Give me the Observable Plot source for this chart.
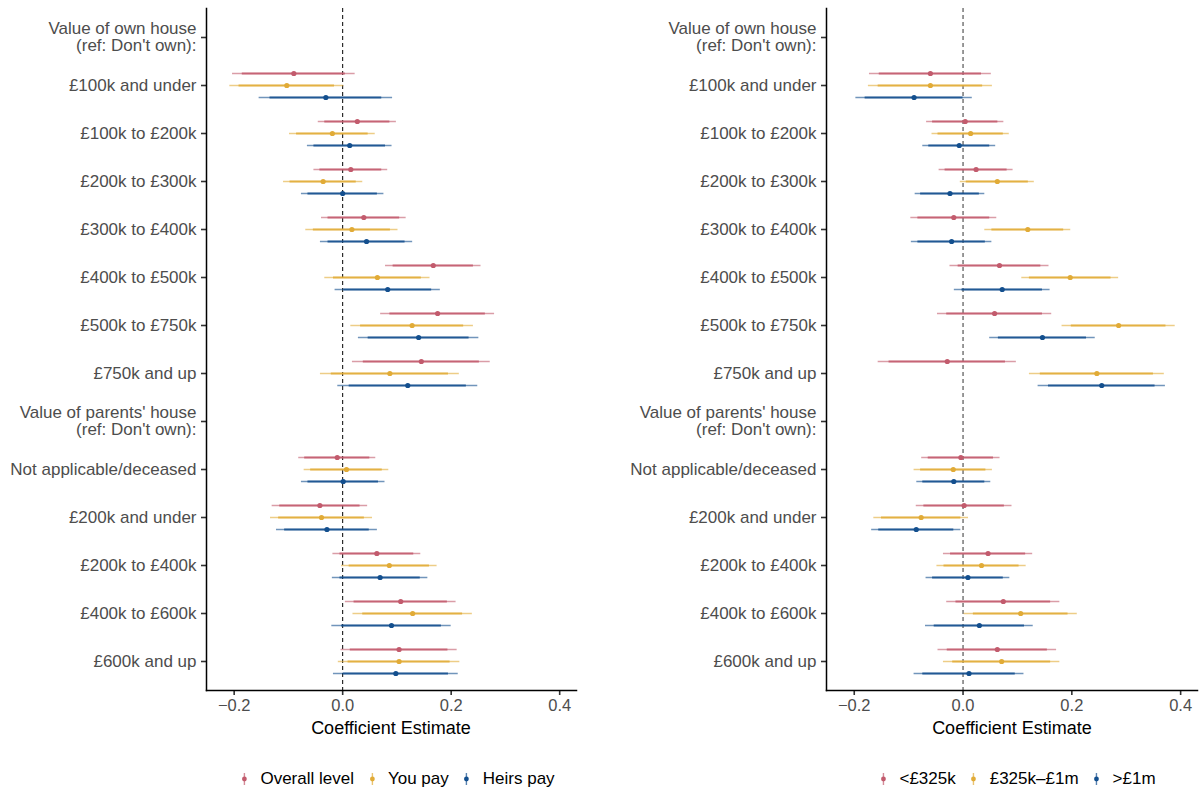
<!DOCTYPE html>
<html>
<head>
<meta charset="utf-8">
<script src="https://cdn.jsdelivr.net/npm/d3@7"></script>
<script src="https://cdn.jsdelivr.net/npm/@observablehq/plot@0.6"></script>
<style>
  body { margin: 0; background: #fff; font-family: "Liberation Sans", Arial, sans-serif; }
  #wrap { position: relative; width: 1204px; height: 793px; overflow: hidden; }
  .panel { position: absolute; top: 0; }
  .xtitle { position: absolute; top: 718px; font-size: 18px; line-height: 20px; color: #000; transform: translateX(-50%); white-space: nowrap; }
  .legend { position: absolute; top: 769px; transform: translateX(-50%); display: flex; align-items: center; font-size: 17px; line-height: 20px; color: #000; white-space: nowrap; }
  .item { display: flex; align-items: center; margin-right: 13px; }
  .item:last-child { margin-right: 0; }
  .item span { margin-left: 11px; }
</style>
</head>
<body>
<div id="wrap"></div>
<script>
// ---- Data ----
const yLabels = [
  "Value of own house\n(ref: Don't own):",
  "£100k and under", "£100k to £200k", "£200k to £300k", "£300k to £400k",
  "£400k to £500k", "£500k to £750k", "£750k and up",
  "Value of parents' house\n(ref: Don't own):",
  "Not applicable/deceased", "£200k and under", "£200k to £400k",
  "£400k to £600k", "£600k and up"
];
const rows = [
  "£100k and under", "£100k to £200k", "£200k to £300k", "£300k to £400k",
  "£400k to £500k", "£500k to £750k", "£750k and up",
  "Not applicable/deceased", "£200k and under", "£200k to £400k",
  "£400k to £600k", "£600k and up"
];
const xTicks = [-0.2, 0, 0.2, 0.4];
const xDomain = [-0.251, 0.431];
const colors = ["#c25b6d", "#e1ab37", "#134f8e"];

// Left panel
const leftSeries = ["Overall level", "You pay", "Heirs pay"];
const overallEst = [-0.090, 0.027, 0.015, 0.039, 0.167, 0.175, 0.145, -0.010, -0.042, 0.063, 0.107, 0.104];
const overallHw95 = [0.113, 0.072, 0.068, 0.078, 0.088, 0.105, 0.127, 0.071, 0.088, 0.081, 0.102, 0.107];
const overallHw90 = [0.095, 0.060, 0.057, 0.066, 0.074, 0.088, 0.107, 0.060, 0.074, 0.068, 0.086, 0.090];
const youPayEst = [-0.103, -0.019, -0.036, 0.017, 0.064, 0.128, 0.087, 0.007, -0.039, 0.086, 0.129, 0.104];
const youPayHw95 = [0.105, 0.079, 0.073, 0.085, 0.097, 0.113, 0.128, 0.078, 0.094, 0.088, 0.110, 0.112];
const youPayHw90 = [0.088, 0.066, 0.061, 0.071, 0.081, 0.095, 0.108, 0.066, 0.079, 0.074, 0.092, 0.094];
const heirsPayEst = [-0.031, 0.013, 0.000, 0.044, 0.083, 0.140, 0.120, 0.001, -0.029, 0.069, 0.090, 0.098];
const heirsPayHw95 = [0.123, 0.078, 0.076, 0.085, 0.097, 0.111, 0.129, 0.077, 0.093, 0.088, 0.110, 0.115];
const heirsPayHw90 = [0.103, 0.066, 0.064, 0.071, 0.081, 0.093, 0.108, 0.065, 0.078, 0.074, 0.092, 0.097];

// Right panel
const rightSeries = ["<£325k", "£325k–£1m", ">£1m"];
const lowEst = [-0.060, 0.004, 0.024, -0.017, 0.067, 0.058, -0.029, -0.004, 0.002, 0.046, 0.074, 0.063];
const lowHw95 = [0.112, 0.071, 0.068, 0.079, 0.091, 0.105, 0.127, 0.072, 0.088, 0.082, 0.104, 0.109];
const lowHw90 = [0.094, 0.060, 0.057, 0.066, 0.076, 0.088, 0.107, 0.060, 0.074, 0.069, 0.087, 0.092];
const midEst = [-0.060, 0.014, 0.063, 0.119, 0.197, 0.286, 0.246, -0.018, -0.077, 0.034, 0.106, 0.071];
const midHw95 = [0.114, 0.071, 0.068, 0.079, 0.089, 0.104, 0.124, 0.072, 0.087, 0.082, 0.104, 0.107];
const midHw90 = [0.096, 0.060, 0.057, 0.066, 0.075, 0.087, 0.104, 0.060, 0.073, 0.069, 0.087, 0.090];
const highEst = [-0.090, -0.007, -0.024, -0.021, 0.072, 0.146, 0.255, -0.017, -0.086, 0.009, 0.030, 0.011];
const highHw95 = [0.107, 0.067, 0.064, 0.074, 0.088, 0.097, 0.117, 0.068, 0.082, 0.077, 0.099, 0.101];
const highHw90 = [0.090, 0.056, 0.054, 0.062, 0.074, 0.081, 0.098, 0.057, 0.069, 0.065, 0.083, 0.085];

// ---- Build ----
function buildData(names, ests, hw95s, hw90s) {
  const out = [];
  names.forEach((name, s) => {
    rows.forEach((cat, r) => {
      const e = ests[s][r];
      out.push({
        cat, series: name, est: e,
        lo95: e - hw95s[s][r], hi95: e + hw95s[s][r],
        lo90: e - hw90s[s][r], hi90: e + hw90s[s][r]
      });
    });
  });
  return out;
}

function makePanel(names, data, width, marginLeft, marginRight, zeroColor) {
  const offsets = [-12, 0, 12];
  const seriesMarks = names.flatMap((name, i) => {
    const d = data.filter(r => r.series === name);
    return [
      Plot.ruleY(d, {y: "cat", x1: "lo95", x2: "hi95", stroke: "series", strokeWidth: 1.4, strokeOpacity: 0.6, dy: offsets[i]}),
      Plot.ruleY(d, {y: "cat", x1: "lo90", x2: "hi90", stroke: "series", strokeWidth: 2.2, strokeOpacity: 0.85, dy: offsets[i]}),
      Plot.dot(d, {y: "cat", x: "est", fill: "series", r: 2.6, dy: offsets[i]})
    ];
  });
  return Plot.plot({
    width, height: 745,
    marginTop: 8, marginBottom: 55, marginLeft, marginRight,
    style: {fontFamily: '"Liberation Sans", Arial, sans-serif', fontSize: "17px", background: "transparent", overflow: "visible"},
    x: {domain: xDomain, label: null},
    y: {type: "point", domain: yLabels, range: [36, 661], padding: 0, label: null},
    color: {domain: names, range: colors},
    marks: [
      Plot.ruleX([0], {stroke: zeroColor, strokeDasharray: "4,3", strokeWidth: 1}),
      ...seriesMarks,
      Plot.axisY({tickSize: 5, strokeWidth: 1.6, color: "#333", tickPadding: 5, fontSize: 17, fill: "#4d4d4d", label: null}),
      Plot.axisX({ticks: xTicks, tickFormat: d3.format(".1f"), tickSize: 5, strokeWidth: 1.6, color: "#333", tickPadding: 4, fontSize: 16.5, fill: "#4d4d4d", label: null}),
      Plot.frame({anchor: "left", stroke: "#000", strokeWidth: 1.5}),
      Plot.frame({anchor: "bottom", stroke: "#000", strokeWidth: 1.5})
    ]
  });
}

function legend(names, centerX) {
  const div = document.createElement("div");
  div.className = "legend";
  div.style.left = centerX + "px";
  names.forEach((n, i) => {
    const item = document.createElement("div");
    item.className = "item";
    item.innerHTML = `<svg width="10" height="16"><line x1="5" x2="5" y1="2" y2="14" stroke="${colors[i]}" stroke-width="1.4" stroke-opacity="0.7"/><circle cx="5" cy="8" r="2.4" fill="${colors[i]}"/></svg>`;
    const sp = document.createElement("span");
    sp.textContent = n;
    item.appendChild(sp);
    div.appendChild(item);
  });
  return div;
}

function title(text, centerX) {
  const t = document.createElement("div");
  t.className = "xtitle";
  t.style.left = centerX + "px";
  t.textContent = text;
  return t;
}

const wrap = document.getElementById("wrap");

const leftData = buildData(leftSeries,
  [overallEst, youPayEst, heirsPayEst],
  [overallHw95, youPayHw95, heirsPayHw95],
  [overallHw90, youPayHw90, heirsPayHw90]);
const rightData = buildData(rightSeries,
  [lowEst, midEst, highEst],
  [lowHw95, midHw95, highHw95],
  [lowHw90, midHw90, highHw90]);

const left = makePanel(leftSeries, leftData, 600, 206, 24, "#000");
left.classList.add("panel");
left.style.left = "0px";
wrap.appendChild(left);

const right = makePanel(rightSeries, rightData, 602, 224, 7, "#333");
right.classList.add("panel");
right.style.left = "602px";
wrap.appendChild(right);

wrap.appendChild(title("Coefficient Estimate", 391));
wrap.appendChild(title("Coefficient Estimate", 1012));
wrap.appendChild(legend(leftSeries, 397));
wrap.appendChild(legend(rightSeries, 1017));
</script>
</body>
</html>
